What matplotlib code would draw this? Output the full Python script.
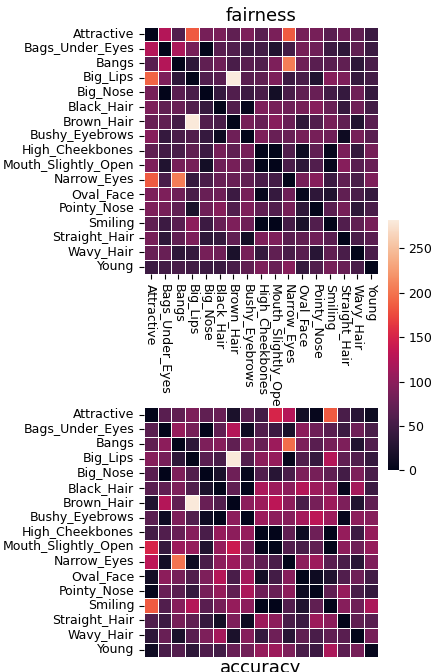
import numpy as np
import matplotlib
matplotlib.use('Agg')
import matplotlib.pyplot as plt
import seaborn as sns

attrs = ['Attractive', 'Bags_Under_Eyes', 'Bangs', 'Big_Lips', 'Big_Nose',
         'Black_Hair', 'Brown_Hair', 'Bushy_Eyebrows', 'High_Cheekbones',
         'Mouth_Slightly_Open', 'Narrow_Eyes', 'Oval_Face', 'Pointy_Nose',
         'Smiling', 'Straight_Hair', 'Wavy_Hair', 'Young']

# values
fairness = [
    [0, 125, 60, 185, 85, 88, 70, 90, 65, 88, 185, 85, 85, 65, 80, 70, 45],
    [125, 0, 120, 85, 0, 65, 60, 45, 50, 25, 50, 85, 80, 45, 35, 70, 45],
    [65, 125, 0, 35, 70, 80, 55, 65, 60, 90, 205, 80, 65, 65, 70, 35, 55],
    [190, 90, 35, 0, 60, 65, 282, 65, 70, 90, 45, 55, 25, 95, 90, 40, 50],
    [85, 0, 65, 55, 0, 40, 60, 45, 55, 15, 55, 70, 75, 50, 40, 80, 40],
    [90, 70, 75, 60, 40, 0, 60, 5, 90, 85, 80, 85, 95, 75, 40, 80, 50],
    [75, 70, 50, 280, 60, 55, 0, 85, 75, 95, 75, 35, 60, 85, 70, 25, 65],
    [95, 40, 55, 60, 40, 10, 80, 0, 90, 75, 75, 85, 85, 80, 10, 85, 65],
    [70, 50, 55, 70, 45, 85, 70, 85, 0, 0, 60, 10, 70, 5, 88, 40, 85],
    [90, 25, 85, 85, 15, 80, 85, 70, 0, 0, 55, 35, 60, 5, 95, 65, 75],
    [185, 55, 205, 40, 55, 75, 75, 70, 55, 50, 0, 85, 95, 45, 70, 55, 90],
    [90, 90, 80, 55, 75, 80, 45, 85, 5, 40, 80, 5, 35, 25, 70, 55, 40],
    [90, 85, 70, 20, 80, 95, 60, 90, 70, 60, 85, 35, 0, 65, 85, 35, 55],
    [70, 45, 65, 100, 45, 75, 90, 80, 0, 0, 50, 20, 60, 0, 60, 70, 85],
    [85, 35, 70, 90, 35, 40, 70, 15, 90, 90, 65, 70, 80, 65, 0, 55, 65],
    [75, 75, 35, 40, 85, 80, 20, 85, 40, 70, 55, 65, 30, 70, 55, 0, 55],
    [45, 50, 55, 50, 45, 45, 55, 70, 90, 75, 95, 40, 60, 85, 75, 55, 0],
]

accuracy = [
    [0, 65, 70, 90, 70, 75, 20, 65, 50, 150, 125, 15, 5, 185, 55, 30, 10],
    [65, 0, 105, 85, 0, 70, 125, 10, 60, 45, 20, 100, 80, 65, 45, 80, 55],
    [70, 100, 0, 35, 90, 95, 70, 90, 75, 110, 195, 90, 65, 85, 90, 25, 60],
    [95, 85, 35, 0, 65, 55, 280, 60, 100, 105, 5, 60, 40, 125, 70, 60, 40],
    [65, 0, 90, 60, 0, 20, 80, 5, 60, 30, 55, 90, 85, 70, 50, 90, 55],
    [65, 70, 90, 60, 20, 0, 70, 0, 120, 110, 100, 125, 110, 100, 5, 115, 45],
    [25, 125, 70, 280, 75, 60, 0, 100, 110, 130, 100, 55, 85, 110, 90, 25, 70],
    [65, 10, 90, 60, 10, 0, 100, 0, 110, 100, 95, 115, 130, 110, 5, 100, 95],
    [50, 60, 75, 95, 55, 105, 100, 105, 0, 0, 70, 10, 80, 0, 105, 45, 105],
    [150, 40, 110, 105, 25, 105, 140, 90, 0, 0, 60, 55, 70, 0, 100, 80, 105],
    [130, 15, 200, 10, 55, 100, 110, 90, 70, 55, 0, 100, 110, 65, 55, 30, 90],
    [15, 100, 85, 60, 90, 125, 55, 115, 15, 50, 95, 0, 10, 25, 60, 80, 50],
    [5, 75, 65, 40, 85, 105, 70, 120, 80, 75, 100, 10, 0, 70, 105, 55, 40],
    [185, 60, 95, 125, 65, 85, 105, 100, 0, 0, 60, 25, 70, 0, 95, 80, 120],
    [60, 45, 85, 70, 40, 15, 90, 10, 110, 100, 55, 45, 110, 100, 0, 70, 65],
    [35, 75, 20, 65, 90, 115, 20, 95, 40, 80, 30, 70, 55, 70, 65, 0, 85],
    [12, 55, 62, 35, 58, 50, 75, 82, 105, 110, 90, 55, 45, 120, 68, 85, 5],
]

vmax = 282

fig = plt.figure(figsize=(4.32, 6.72), dpi=100)
ax1 = fig.add_axes([0.333, 0.592, 0.542, 0.368])
ax2 = fig.add_axes([0.333, 0.022, 0.542, 0.372])
cax = fig.add_axes([0.897, 0.300, 0.026, 0.373])

sns.heatmap(np.array(fairness), ax=ax1, cmap='rocket', vmin=0, vmax=vmax,
            linewidths=0.5, linecolor='white', cbar_ax=cax,
            xticklabels=attrs, yticklabels=attrs)
ax1.set_title('fairness', fontsize=13, pad=4)
ax1.tick_params(labelsize=9)
plt.setp(ax1.get_xticklabels(), rotation=270)
plt.setp(ax1.get_yticklabels(), rotation=0)

sns.heatmap(np.array(accuracy), ax=ax2, cmap='rocket', vmin=0, vmax=vmax,
            linewidths=0.5, linecolor='white', cbar=False,
            xticklabels=False, yticklabels=attrs)
ax2.set_xlabel('accuracy', fontsize=13, labelpad=1)
ax2.tick_params(labelsize=9)
plt.setp(ax2.get_yticklabels(), rotation=0)

cax.tick_params(labelsize=9)

plt.savefig('out.png', dpi=100)
plt.close()
